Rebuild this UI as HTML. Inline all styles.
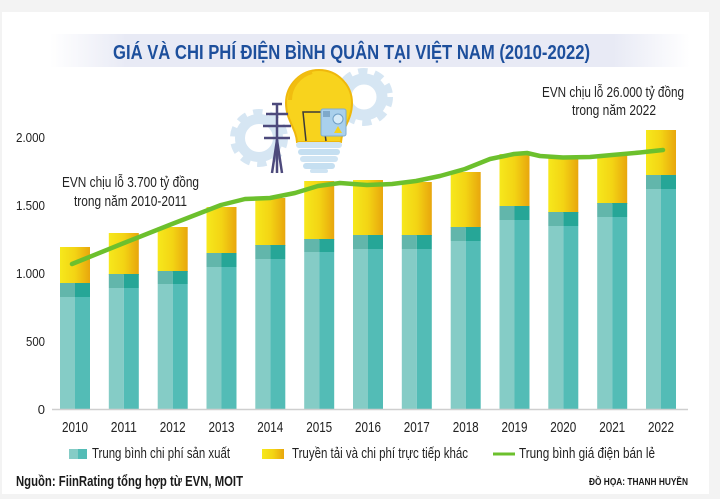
<!DOCTYPE html>
<html>
<head>
<meta charset="utf-8">
<style>
  html,body{margin:0;padding:0;background:#f3f3f3;}
  body{width:720px;height:499px;overflow:hidden;}
  svg{display:block;}
  text{font-family:"Liberation Sans","DejaVu Sans",sans-serif;}
</style>
</head>
<body>
<svg width="720" height="499" viewBox="0 0 720 499" xmlns="http://www.w3.org/2000/svg">
  <defs>
    <linearGradient id="band" x1="0" x2="1" y1="0" y2="0">
      <stop offset="0" stop-color="#e8eaf5" stop-opacity="0"/>
      <stop offset="0.12" stop-color="#e8eaf5" stop-opacity="1"/>
      <stop offset="0.88" stop-color="#e8eaf5" stop-opacity="1"/>
      <stop offset="1" stop-color="#e8eaf5" stop-opacity="0"/>
    </linearGradient>
    <linearGradient id="yel" x1="0" x2="1" y1="0" y2="0">
      <stop offset="0" stop-color="#f6e81c"/>
      <stop offset="0.5" stop-color="#f3d414"/>
      <stop offset="1" stop-color="#e8a60d"/>
    </linearGradient>
  </defs>

  <!-- card -->
  <rect x="2" y="12" width="707" height="482" fill="#ffffff"/>

  <!-- title band -->
  <rect x="50" y="34" width="640" height="33" fill="url(#band)"/>
  <text x="113" y="59" font-size="20" font-weight="bold" fill="#1d4f9c" textLength="477" lengthAdjust="spacingAndGlyphs">GIÁ VÀ CHI PHÍ ĐIỆN BÌNH QUÂN TẠI VIỆT NAM (2010-2022)</text>

  <!-- illustration -->
  <g>
    <!-- left gear -->
    <circle cx="259" cy="138" r="25" fill="none" stroke="#d6e6f3" stroke-width="8" stroke-dasharray="9 7"/>
    <circle cx="259" cy="138" r="19" fill="none" stroke="#d6e6f3" stroke-width="10"/>
    <!-- right gear -->
    <circle cx="364" cy="97" r="25" fill="none" stroke="#d6e6f3" stroke-width="8" stroke-dasharray="9 7"/>
    <circle cx="364" cy="97" r="18" fill="none" stroke="#d6e6f3" stroke-width="11"/>
    <!-- bulb -->
    <path d="M297,142 C296,128 286,120 286,103 A33,33 0 1 1 352,103 C352,120 342,128 341,142 Z" fill="#f8d31d" stroke="#efb80c" stroke-width="2"/>
    <path d="M290,100 A29,29 0 0 1 312,72" fill="none" stroke="#f1bd10" stroke-width="4"/>
    <path d="M306,141 L303,112 L322,112 L326,141" fill="none" stroke="#3a3a3a" stroke-width="1.5"/>
    <!-- base -->
    <rect x="296" y="142" width="46" height="6" rx="3" fill="#cfe4f3"/>
    <rect x="298" y="149" width="42" height="6" rx="3" fill="#c5dff1"/>
    <rect x="300" y="156" width="38" height="6" rx="3" fill="#cfe4f3"/>
    <rect x="303" y="163" width="32" height="6" rx="3" fill="#c5dff1"/>
    <rect x="310" y="169" width="18" height="4" rx="2" fill="#cfe4f3"/>
    <!-- pylon -->
    <g stroke="#4d4a7c" stroke-width="2.5" fill="none">
      <line x1="277" y1="104" x2="277" y2="173"/>
      <line x1="272" y1="104" x2="282" y2="104"/>
      <line x1="266" y1="114" x2="288" y2="114"/>
      <line x1="263" y1="126" x2="291" y2="126"/>
      <line x1="264" y1="138" x2="290" y2="138"/>
      <line x1="272" y1="173" x2="277" y2="140"/>
      <line x1="282" y1="173" x2="277" y2="140"/>
    </g>
    <!-- meter -->
    <rect x="321" y="109" width="25" height="27" rx="2" fill="#a9d0ec" stroke="#7eaed3" stroke-width="1"/>
    <rect x="323" y="111" width="7" height="6" fill="#7fa9c9"/>
    <circle cx="338" cy="119" r="5" fill="#d6ebf8" stroke="#6f9fc6" stroke-width="1"/>
    <path d="M338,126 L342,133 L334,133 Z" fill="#f5d21d"/>
  </g>

  <!-- annotations -->
  <text x="542" y="97" font-size="15" fill="#222" textLength="142" lengthAdjust="spacingAndGlyphs">EVN chịu lỗ  26.000 tỷ đồng</text>
  <text x="572" y="115" font-size="15" fill="#222" textLength="84" lengthAdjust="spacingAndGlyphs">trong năm 2022</text>
  <text x="62" y="187" font-size="15" fill="#222" textLength="137" lengthAdjust="spacingAndGlyphs">EVN chịu lỗ  3.700 tỷ đồng</text>
  <text x="74" y="206" font-size="15" fill="#222" textLength="113" lengthAdjust="spacingAndGlyphs">trong năm 2010-2011</text>

  <!-- y axis labels -->
  <g font-size="13" fill="#222" text-anchor="end">
    <text x="45" y="142" textLength="29" lengthAdjust="spacingAndGlyphs">2.000</text>
    <text x="45" y="210" textLength="29" lengthAdjust="spacingAndGlyphs">1.500</text>
    <text x="45" y="278" textLength="29" lengthAdjust="spacingAndGlyphs">1.000</text>
    <text x="45" y="346" textLength="19" lengthAdjust="spacingAndGlyphs">500</text>
    <text x="45" y="414">0</text>
  </g>

  <!-- bars -->
  <g id="bars">
    <!-- 2010 x=60 -->
    <rect x="60" y="247" width="30" height="37" fill="url(#yel)"/>
    <rect x="60" y="283" width="15" height="14" fill="#62b6ab"/><rect x="75" y="283" width="15" height="14" fill="#26a697"/>
    <rect x="60" y="297" width="15" height="112" fill="#85ccc6"/><rect x="75" y="297" width="15" height="112" fill="#53bcb6"/>
    <!-- 2011 x=108.8 -->
    <rect x="108.8" y="233" width="30" height="42" fill="url(#yel)"/>
    <rect x="108.8" y="274" width="15" height="14" fill="#62b6ab"/><rect x="123.8" y="274" width="15" height="14" fill="#26a697"/>
    <rect x="108.8" y="288" width="15" height="121" fill="#85ccc6"/><rect x="123.8" y="288" width="15" height="121" fill="#53bcb6"/>
    <!-- 2012 x=157.7 -->
    <rect x="157.7" y="227" width="30" height="45" fill="url(#yel)"/>
    <rect x="157.7" y="271" width="15" height="13" fill="#62b6ab"/><rect x="172.7" y="271" width="15" height="13" fill="#26a697"/>
    <rect x="157.7" y="284" width="15" height="125" fill="#85ccc6"/><rect x="172.7" y="284" width="15" height="125" fill="#53bcb6"/>
    <!-- 2013 x=206.5 -->
    <rect x="206.5" y="207" width="30" height="47" fill="url(#yel)"/>
    <rect x="206.5" y="253" width="15" height="14" fill="#62b6ab"/><rect x="221.5" y="253" width="15" height="14" fill="#26a697"/>
    <rect x="206.5" y="267" width="15" height="142" fill="#85ccc6"/><rect x="221.5" y="267" width="15" height="142" fill="#53bcb6"/>
    <!-- 2014 x=255.3 -->
    <rect x="255.3" y="198" width="30" height="48" fill="url(#yel)"/>
    <rect x="255.3" y="245" width="15" height="14" fill="#62b6ab"/><rect x="270.3" y="245" width="15" height="14" fill="#26a697"/>
    <rect x="255.3" y="259" width="15" height="150" fill="#85ccc6"/><rect x="270.3" y="259" width="15" height="150" fill="#53bcb6"/>
    <!-- 2015 x=304.2 -->
    <rect x="304.2" y="181" width="30" height="59" fill="url(#yel)"/>
    <rect x="304.2" y="239" width="15" height="13" fill="#62b6ab"/><rect x="319.2" y="239" width="15" height="13" fill="#26a697"/>
    <rect x="304.2" y="252" width="15" height="157" fill="#85ccc6"/><rect x="319.2" y="252" width="15" height="157" fill="#53bcb6"/>
    <!-- 2016 x=353 -->
    <rect x="353" y="180" width="30" height="56" fill="url(#yel)"/>
    <rect x="353" y="235" width="15" height="14" fill="#62b6ab"/><rect x="368" y="235" width="15" height="14" fill="#26a697"/>
    <rect x="353" y="249" width="15" height="160" fill="#85ccc6"/><rect x="368" y="249" width="15" height="160" fill="#53bcb6"/>
    <!-- 2017 x=401.8 -->
    <rect x="401.8" y="182" width="30" height="54" fill="url(#yel)"/>
    <rect x="401.8" y="235" width="15" height="14" fill="#62b6ab"/><rect x="416.8" y="235" width="15" height="14" fill="#26a697"/>
    <rect x="401.8" y="249" width="15" height="160" fill="#85ccc6"/><rect x="416.8" y="249" width="15" height="160" fill="#53bcb6"/>
    <!-- 2018 x=450.7 -->
    <rect x="450.7" y="172" width="30" height="56" fill="url(#yel)"/>
    <rect x="450.7" y="227" width="15" height="14" fill="#62b6ab"/><rect x="465.7" y="227" width="15" height="14" fill="#26a697"/>
    <rect x="450.7" y="241" width="15" height="168" fill="#85ccc6"/><rect x="465.7" y="241" width="15" height="168" fill="#53bcb6"/>
    <!-- 2019 x=499.5 -->
    <rect x="499.5" y="154" width="30" height="53" fill="url(#yel)"/>
    <rect x="499.5" y="206" width="15" height="14" fill="#62b6ab"/><rect x="514.5" y="206" width="15" height="14" fill="#26a697"/>
    <rect x="499.5" y="220" width="15" height="189" fill="#85ccc6"/><rect x="514.5" y="220" width="15" height="189" fill="#53bcb6"/>
    <!-- 2020 x=548.3 -->
    <rect x="548.3" y="158" width="30" height="55" fill="url(#yel)"/>
    <rect x="548.3" y="212" width="15" height="14" fill="#62b6ab"/><rect x="563.3" y="212" width="15" height="14" fill="#26a697"/>
    <rect x="548.3" y="226" width="15" height="183" fill="#85ccc6"/><rect x="563.3" y="226" width="15" height="183" fill="#53bcb6"/>
    <!-- 2021 x=597.2 -->
    <rect x="597.2" y="155" width="30" height="49" fill="url(#yel)"/>
    <rect x="597.2" y="203" width="15" height="14" fill="#62b6ab"/><rect x="612.2" y="203" width="15" height="14" fill="#26a697"/>
    <rect x="597.2" y="217" width="15" height="192" fill="#85ccc6"/><rect x="612.2" y="217" width="15" height="192" fill="#53bcb6"/>
    <!-- 2022 x=646 -->
    <rect x="646" y="130" width="30" height="46" fill="url(#yel)"/>
    <rect x="646" y="175" width="15" height="14" fill="#62b6ab"/><rect x="661" y="175" width="15" height="14" fill="#26a697"/>
    <rect x="646" y="189" width="15" height="220" fill="#85ccc6"/><rect x="661" y="189" width="15" height="220" fill="#53bcb6"/>
  </g>

  <!-- axis line -->
  <line x1="52" y1="409.5" x2="688" y2="409.5" stroke="#cfcfcf" stroke-width="1.5"/>

  <!-- retail price line -->
  <polyline fill="none" stroke="#6cc02d" stroke-width="4.5" stroke-linecap="round" stroke-linejoin="round"
    points="72,264 124,243 172,224 221,205 245,199 270,198 295,193 318,186 340,183 367,185 392,184 416,181 440,176 465,169 490,159 514,154 527,153 540,156 563,157.5 590,157 612,155 640,152.5 663,150"/>

  <!-- year labels -->
  <g font-size="15" fill="#222" text-anchor="middle">
    <text x="75" y="432" textLength="26" lengthAdjust="spacingAndGlyphs">2010</text>
    <text x="123.8" y="432" textLength="26" lengthAdjust="spacingAndGlyphs">2011</text>
    <text x="172.7" y="432" textLength="26" lengthAdjust="spacingAndGlyphs">2012</text>
    <text x="221.5" y="432" textLength="26" lengthAdjust="spacingAndGlyphs">2013</text>
    <text x="270.3" y="432" textLength="26" lengthAdjust="spacingAndGlyphs">2014</text>
    <text x="319.2" y="432" textLength="26" lengthAdjust="spacingAndGlyphs">2015</text>
    <text x="368" y="432" textLength="26" lengthAdjust="spacingAndGlyphs">2016</text>
    <text x="416.8" y="432" textLength="26" lengthAdjust="spacingAndGlyphs">2017</text>
    <text x="465.7" y="432" textLength="26" lengthAdjust="spacingAndGlyphs">2018</text>
    <text x="514.5" y="432" textLength="26" lengthAdjust="spacingAndGlyphs">2019</text>
    <text x="563.3" y="432" textLength="26" lengthAdjust="spacingAndGlyphs">2020</text>
    <text x="612.2" y="432" textLength="26" lengthAdjust="spacingAndGlyphs">2021</text>
    <text x="661" y="432" textLength="26" lengthAdjust="spacingAndGlyphs">2022</text>
  </g>

  <!-- legend -->
  <rect x="69" y="449" width="9" height="10" fill="#85ccc6"/>
  <rect x="78" y="449" width="9" height="10" fill="#53bcb6"/>
  <text x="92" y="458" font-size="15" fill="#222" textLength="138" lengthAdjust="spacingAndGlyphs">Trung bình chi phí sản xuất</text>
  <rect x="262" y="449" width="22" height="10" fill="url(#yel)"/>
  <text x="292" y="458" font-size="15" fill="#222" textLength="176" lengthAdjust="spacingAndGlyphs">Truyền tải và chi phí trực tiếp khác</text>
  <line x1="493" y1="454" x2="515" y2="454" stroke="#6cc02d" stroke-width="3"/>
  <text x="519" y="458" font-size="15" fill="#222" textLength="136" lengthAdjust="spacingAndGlyphs">Trung bình giá điện bán lẻ</text>

  <!-- source / credit -->
  <text x="16" y="486" font-size="15" font-weight="bold" fill="#1a1a1a" textLength="227" lengthAdjust="spacingAndGlyphs">Nguồn: FiinRating tổng hợp từ EVN, MOIT</text>
  <text x="589" y="485" font-size="10" font-weight="bold" fill="#1a1a1a" textLength="99" lengthAdjust="spacingAndGlyphs">ĐỒ HỌA: THANH HUYỀN</text>
</svg>
</body>
</html>
